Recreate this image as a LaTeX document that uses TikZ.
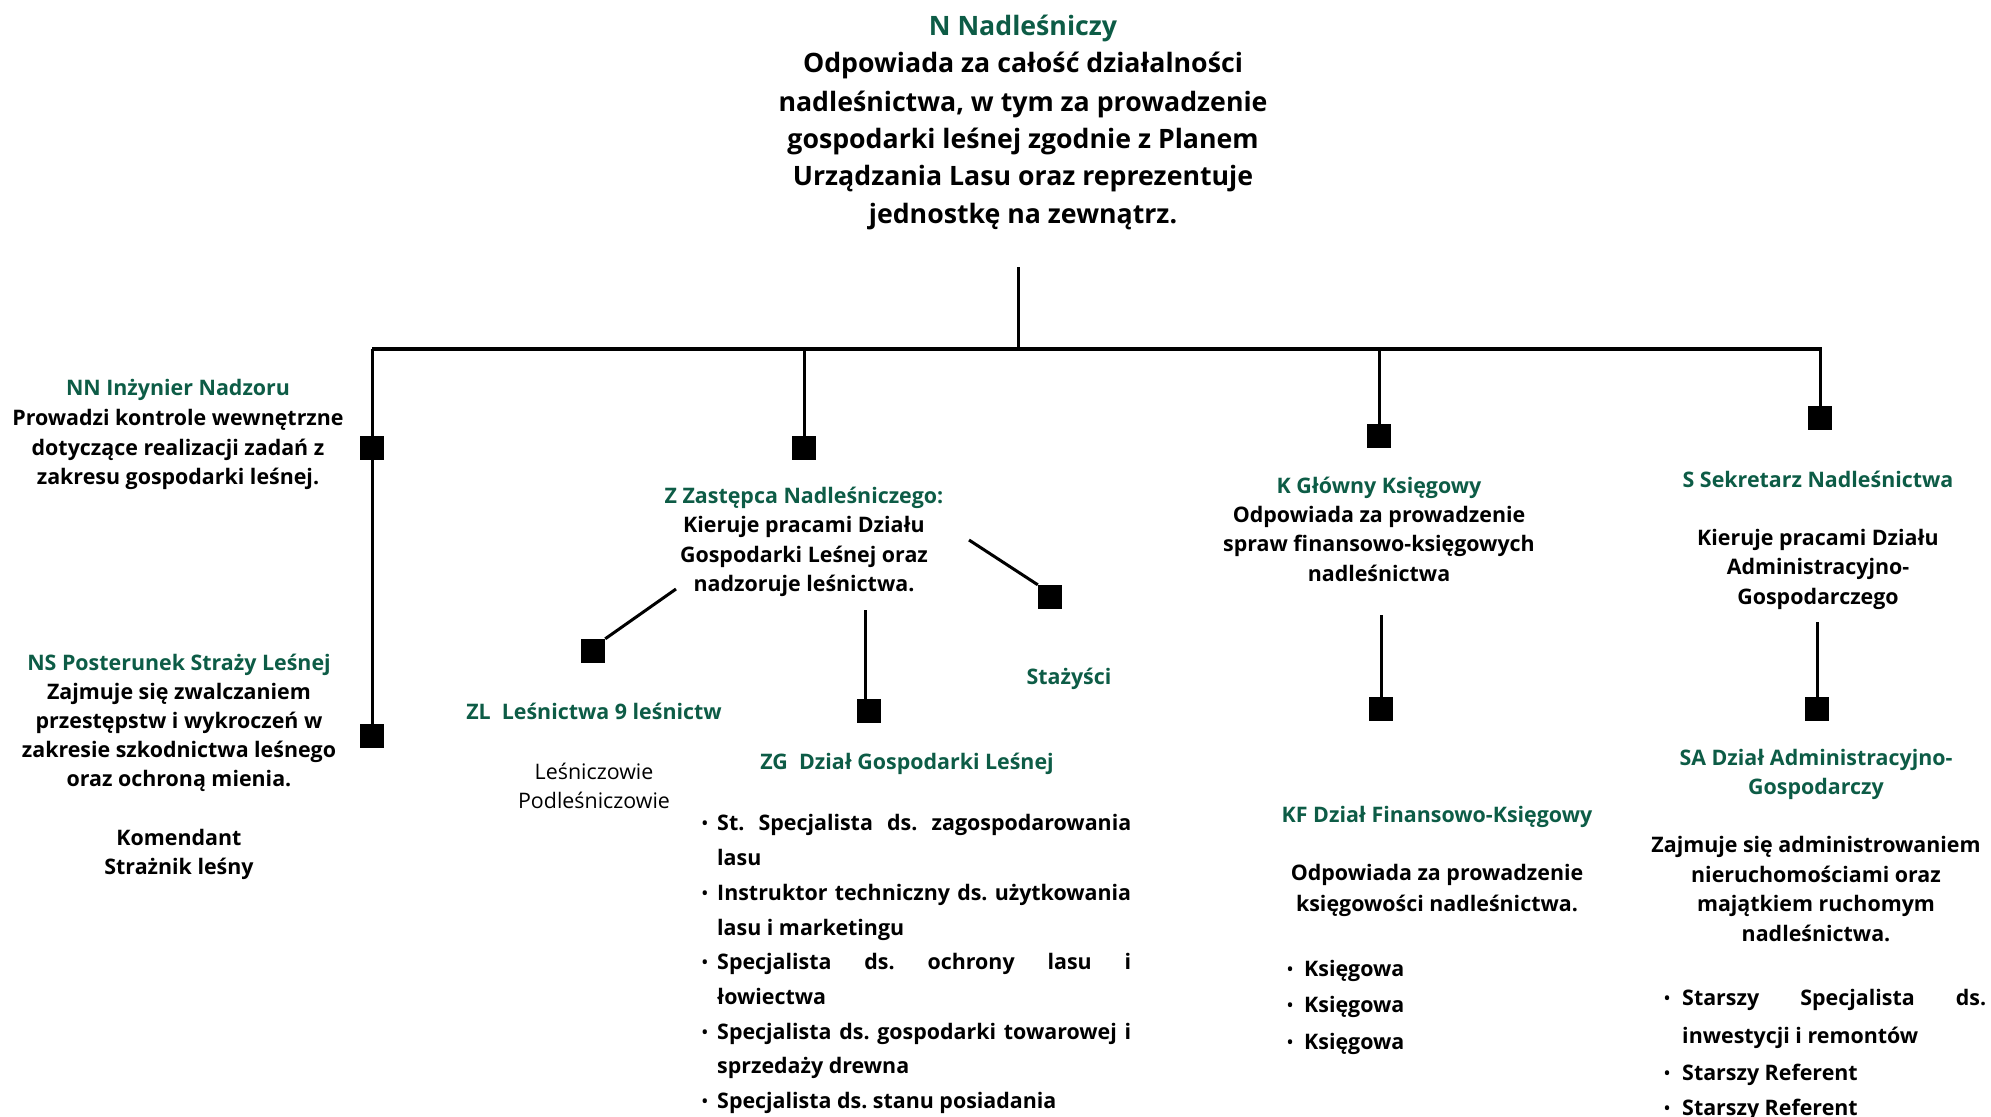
\documentclass[tikz,border=0pt]{standalone}
\usepackage{fontspec}
\setmainfont{Open Sans}
\frenchspacing
\definecolor{lpgreen}{RGB}{13,92,70}
\begin{document}
\begin{tikzpicture}[x=1pt,y=-1pt,
  big/.style={anchor=base,inner sep=0,font=\bfseries\fontsize{26.7}{32}\selectfont},
  bgr/.style={big,text=lpgreen},
  mid/.style={anchor=base,inner sep=0,font=\bfseries\fontsize{21.4}{26}\selectfont},
  gr/.style={mid,text=lpgreen},
  reg/.style={anchor=base,inner sep=0,font=\fontsize{21.4}{26}\selectfont},
  lft/.style={mid,anchor=base west},
  bul/.style={anchor=base,inner sep=0,font=\fontsize{20}{24}\selectfont},
  sq/.style={fill=black,minimum size=24pt,inner sep=0,draw=none},
  con/.style={line width=3pt},
  bus/.style={line width=4pt},
]
\useasboundingbox (0,0) rectangle (1991,1116);
% ---------- top ----------
\node[bgr] (n0) at (1023,36) {N Nadleśniczy};
\node[big] (n1) at (1023,73) {Odpowiada za całość działalności};
\node[big] (n2) at (1023,111) {nadleśnictwa, w tym za prowadzenie};
\node[big] (n3) at (1023,148) {gospodarki leśnej zgodnie z Planem};
\node[big] (n4) at (1023,185) {Urządzania Lasu oraz reprezentuje};
\node[big] (n5) at (1023,223) {jednostkę na zewnątrz.};
\coordinate (topA) at (1018,267);
\coordinate (topB) at (1018,349);
\coordinate (busL) at (372,349);
\coordinate (busR) at (1822,349);
\coordinate (b1) at (372,349);
\coordinate (b2) at (804,349);
\coordinate (b3) at (1379,349);
\coordinate (b4) at (1820,349);
\draw[con] (topA) -- (topB);
\draw[bus] (busL) -- (busR);
% squares
\node[sq] (sqNN) at (372,448) {};
\node[sq] (sqNS) at (372,736) {};
\node[sq] (sqZ) at (804,448) {};
\node[sq] (sqK) at (1379,436) {};
\node[sq] (sqS) at (1820,418) {};
\node[sq] (sqZL) at (593,651) {};
\node[sq] (sqZG) at (869,711) {};
\node[sq] (sqST) at (1050,597) {};
\node[sq] (sqKF) at (1381,709) {};
\node[sq] (sqSA) at (1817,709) {};
\draw[con] (b1) -- (sqNS.center);
\draw[con] (b2) -- (sqZ);
\draw[con] (b3) -- (sqK);
\draw[con] (b4) -- (sqS);
\coordinate (zl0) at (676,589);
\coordinate (st0) at (969,540);
\coordinate (zg0) at (865,610);
\coordinate (kf0) at (1381,615);
\coordinate (sa0) at (1817,622);
\draw[con] (zl0) -- (sqZL.north east);
\draw[con] (st0) -- (sqST.north west);
\draw[con] (zg0) -- (zg0 |- sqZG.north);
\draw[con] (kf0) -- (sqKF);
\draw[con] (sa0) -- (sqSA);
% ---------- NN ----------
\node[gr] (nn0) at (178,395) {NN Inżynier Nadzoru};
\node[mid] (nn1) at (178,425) {Prowadzi kontrole wewnętrzne};
\node[mid] (nn2) at (178,455) {dotyczące realizacji zadań z};
\node[mid] (nn3) at (178,484) {zakresu gospodarki leśnej.};
% ---------- NS ----------
\node[gr] (ns0) at (179,670) {NS Posterunek Straży Leśnej};
\node[mid] (ns1) at (179,699) {Zajmuje się zwalczaniem};
\node[mid] (ns2) at (179,728) {przestępstw i wykroczeń w};
\node[mid] (ns3) at (179,757) {zakresie szkodnictwa leśnego};
\node[mid] (ns4) at (179,786) {oraz ochroną mienia.};
\node[mid] (ns5) at (179,845) {Komendant};
\node[mid] (ns6) at (179,874) {Strażnik leśny};
% ---------- Z ----------
\node[gr] (z0) at (804,503) {Z Zastępca Nadleśniczego:};
\node[mid] (z1) at (804,532) {Kieruje pracami Działu};
\node[mid] (z2) at (804,562) {Gospodarki Leśnej oraz};
\node[mid] (z3) at (804,591) {nadzoruje leśnictwa.};
% ---------- ZL ----------
\node[gr] (zl1) at (594,719) {ZL\ \ Leśnictwa 9 leśnictw};
\node[reg] (zl2) at (594,779) {Leśniczowie};
\node[reg] (zl3) at (594,808) {Podleśniczowie};
% ---------- Stazysci ----------
\node[gr] (st1) at (1069,684) {Stażyści};
% ---------- ZG ----------
\node[gr] (zg1) at (907,769) {ZG\ \ Dział Gospodarki Leśnej};
\node[bul] (zgb1) at (705,830) {•};
\node[bul] (zgb2) at (705,900) {•};
\node[bul] (zgb3) at (705,969) {•};
\node[bul] (zgb4) at (705,1039) {•};
\node[bul] (zgb5) at (705,1108) {•};
\node[lft] (zgl1) at (717,830) {\makebox[414pt][s]{St. Specjalista ds. zagospodarowania}};
\node[lft] (zgl2) at (717,865) {lasu};
\node[lft] (zgl3) at (717,900) {\makebox[414pt][s]{Instruktor techniczny ds. użytkowania}};
\node[lft] (zgl4) at (717,935) {lasu i marketingu};
\node[lft] (zgl5) at (717,969) {\makebox[414pt][s]{Specjalista ds. ochrony lasu i}};
\node[lft] (zgl6) at (717,1004) {łowiectwa};
\node[lft] (zgl7) at (717,1039) {\makebox[414pt][s]{Specjalista ds. gospodarki towarowej i}};
\node[lft] (zgl8) at (717,1073) {sprzedaży drewna};
\node[lft] (zgl9) at (717,1108) {Specjalista ds. stanu posiadania};
% ---------- K ----------
\node[gr] (k0) at (1379,493) {K Główny Księgowy};
\node[mid] (k1) at (1379,522) {Odpowiada za prowadzenie};
\node[mid] (k2) at (1379,551) {spraw finansowo-księgowych};
\node[mid] (k3) at (1379,581) {nadleśnictwa};
% ---------- KF ----------
\node[gr] (kf1) at (1437,822) {KF Dział Finansowo-Księgowy};
\node[mid] (kf2) at (1437,880) {Odpowiada za prowadzenie};
\node[mid] (kf3) at (1437,911) {księgowości nadleśnictwa.};
\node[bul] (kfb1) at (1290,976) {•};
\node[bul] (kfb2) at (1290,1012) {•};
\node[bul] (kfb3) at (1290,1049) {•};
\node[lft] (kfl1) at (1304,976) {Księgowa};
\node[lft] (kfl2) at (1304,1012) {Księgowa};
\node[lft] (kfl3) at (1304,1049) {Księgowa};
% ---------- S ----------
\node[gr] (s0) at (1818,487) {S Sekretarz Nadleśnictwa};
\node[mid] (s1) at (1818,545) {Kieruje pracami Działu};
\node[mid] (s2) at (1818,574) {Administracyjno-};
\node[mid] (s3) at (1818,604) {Gospodarczego};
% ---------- SA ----------
\node[gr] (sa0) at (1816,765) {SA Dział Administracyjno-};
\node[gr] (sa1) at (1816,794) {Gospodarczy};
\node[mid] (sa2) at (1816,852) {Zajmuje się administrowaniem};
\node[mid] (sa3) at (1816,882) {nieruchomościami oraz};
\node[mid] (sa4) at (1816,911) {majątkiem ruchomym};
\node[mid] (sa5) at (1816,941) {nadleśnictwa.};
\node[bul] (sab1) at (1667,1005) {•};
\node[bul] (sab2) at (1667,1080) {•};
\node[bul] (sab3) at (1667,1115) {•};
\node[lft] (sal1) at (1682,1005) {\makebox[304pt][s]{Starszy Specjalista ds.}};
\node[lft] (sal2) at (1682,1043) {inwestycji i remontów};
\node[lft] (sal3) at (1682,1080) {Starszy Referent};
\node[lft] (sal4) at (1682,1115) {Starszy Referent};
\end{tikzpicture}
\end{document}
